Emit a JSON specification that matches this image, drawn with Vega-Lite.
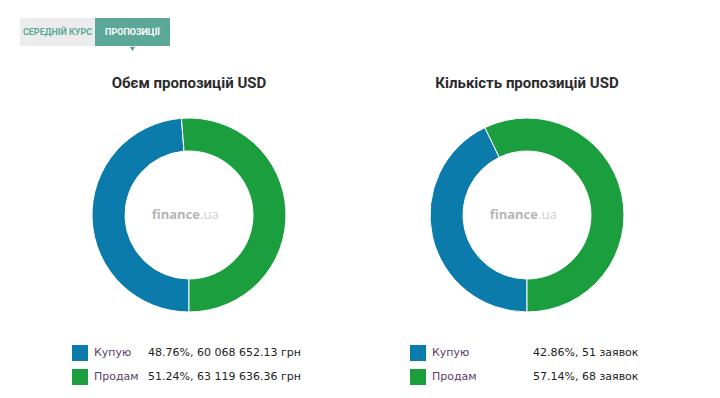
{
  "$schema": "https://vega.github.io/schema/vega-lite/v6.json",
  "background": "white",
  "padding": {"left": 0, "top": 18, "right": 0, "bottom": 0},
  "config": {"view": {"stroke": null}},
  "spacing": 24,
  "vconcat": [
    {
      "width": 720,
      "height": 28,
      "data": {"values": [{"tab": "СЕРЕДНІЙ КУРС"}, {"tab": "ПРОПОЗИЦІЇ"}]},
      "encoding": {
        "x": {"field": "tab", "type": "nominal", "axis": null, "sort": null,
              "scale": {"domain": ["СЕРЕДНІЙ КУРС", "ПРОПОЗИЦІЇ"], "range": [20, 170], "paddingInner": 0, "paddingOuter": 0}}
      },
      "layer": [
        {"mark": {"type": "rect"},
         "encoding": {"color": {"condition": {"test": "datum.tab === 'ПРОПОЗИЦІЇ'", "value": "#5ba898"}, "value": "#ececec"}}},
        {"transform": [{"filter": "datum.tab === 'ПРОПОЗИЦІЇ'"}],
         "mark": {"type": "point", "shape": "triangle-down", "size": 30, "filled": true, "opacity": 1, "yOffset": 17, "color": "#5ba898"}},
        {"mark": {"type": "text", "font": "Roboto, sans-serif", "fontWeight": "bold", "fontSize": 9, "baseline": "middle", "align": "center"},
         "encoding": {"text": {"field": "tab"},
                      "color": {"condition": {"test": "datum.tab === 'ПРОПОЗИЦІЇ'", "value": "white"}, "value": "#5ba898"}}}
      ]
    },
    {
      "spacing": 0,
      "hconcat": [
        {
          "spacing": 26,
          "vconcat": [
            {
              "width": 378,
              "height": 200,
              "title": {"text": "Обєм пропозицій USD", "font": "Roboto, sans-serif", "fontSize": 15, "fontWeight": "bold", "color": "#2b2b2b", "offset": 24},
              "layer": [
                {
                  "data": {"values": [{"cat": "Купую", "amount": 60068652.13}, {"cat": "Продам", "amount": 63119636.36}]},
                  "mark": {"type": "arc", "innerRadius": 64, "outerRadius": 97, "stroke": "white", "strokeWidth": 1},
                  "encoding": {
                    "theta": {"field": "amount", "type": "quantitative", "stack": true, "scale": {"range": [3.14159265, 9.42477796]}},
                    "order": {"field": "cat", "sort": "ascending"},
                    "color": {"field": "cat", "type": "nominal", "legend": null, "scale": {"domain": ["Купую", "Продам"], "range": ["#0b7bab", "#1a9e3e"]}}
                  }
                },
                {
                  "data": {"values": [{"t": "finance"}]},
                  "mark": {"type": "text", "align": "right", "baseline": "middle", "dx": 11, "font": "Open Sans, sans-serif", "fontWeight": "bold", "fontSize": 13, "color": "#b5b5b5"},
                  "encoding": {"text": {"field": "t"}}
                },
                {
                  "data": {"values": [{"t": ".ua"}]},
                  "mark": {"type": "text", "align": "left", "baseline": "middle", "dx": 11, "font": "Open Sans, sans-serif", "fontSize": 13, "color": "#cfcfcf"},
                  "encoding": {"text": {"field": "t"}}
                }
              ]
            },
            {
              "width": 378,
              "height": 48,
              "data": {"values": [
                {"cat": "Купую", "val": "48.76%, 60 068 652.13 грн"},
                {"cat": "Продам", "val": "51.24%, 63 119 636.36 грн"}
              ]},
              "encoding": {
                "y": {"field": "cat", "type": "nominal", "axis": null, "scale": {"domain": ["Купую", "Продам"], "paddingInner": 0, "paddingOuter": 0}}
              },
              "resolve": {"scale": {"x": "independent"}},
              "layer": [
                {"mark": {"type": "point", "shape": "square", "size": 256, "filled": true, "opacity": 1},
                 "encoding": {
                   "x": {"datum": "sq", "type": "nominal", "axis": null, "scale": {"range": [80, 80]}},
                   "color": {"field": "cat", "type": "nominal", "legend": null, "scale": {"domain": ["Купую", "Продам"], "range": ["#0b7bab", "#1a9e3e"]}}
                 }},
                {"mark": {"type": "text", "align": "left", "baseline": "middle", "font": "DejaVu Sans", "fontSize": 11, "color": "#5a3d6c"},
                 "encoding": {
                   "x": {"datum": "name", "type": "nominal", "axis": null, "scale": {"range": [94, 94]}},
                   "text": {"field": "cat"}
                 }},
                {"mark": {"type": "text", "align": "left", "baseline": "middle", "font": "DejaVu Sans", "fontSize": 11, "color": "#222222"},
                 "encoding": {
                   "x": {"datum": "val", "type": "nominal", "axis": null, "scale": {"range": [148, 148]}},
                   "text": {"field": "val"}
                 }}
              ]
            }
          ]
        },
        {
          "spacing": 26,
          "vconcat": [
            {
              "width": 298,
              "height": 200,
              "title": {"text": "Кількість пропозицій USD", "font": "Roboto, sans-serif", "fontSize": 15, "fontWeight": "bold", "color": "#2b2b2b", "offset": 24},
              "layer": [
                {
                  "data": {"values": [{"cat": "Купую", "count": 51}, {"cat": "Продам", "count": 68}]},
                  "mark": {"type": "arc", "innerRadius": 64, "outerRadius": 97, "stroke": "white", "strokeWidth": 1},
                  "encoding": {
                    "theta": {"field": "count", "type": "quantitative", "stack": true, "scale": {"range": [3.14159265, 9.42477796]}},
                    "order": {"field": "cat", "sort": "ascending"},
                    "color": {"field": "cat", "type": "nominal", "legend": null, "scale": {"domain": ["Купую", "Продам"], "range": ["#0b7bab", "#1a9e3e"]}}
                  }
                },
                {
                  "data": {"values": [{"t": "finance"}]},
                  "mark": {"type": "text", "align": "right", "baseline": "middle", "dx": 11, "font": "Open Sans, sans-serif", "fontWeight": "bold", "fontSize": 13, "color": "#b5b5b5"},
                  "encoding": {"text": {"field": "t"}}
                },
                {
                  "data": {"values": [{"t": ".ua"}]},
                  "mark": {"type": "text", "align": "left", "baseline": "middle", "dx": 11, "font": "Open Sans, sans-serif", "fontSize": 13, "color": "#cfcfcf"},
                  "encoding": {"text": {"field": "t"}}
                }
              ]
            },
            {
              "width": 298,
              "height": 48,
              "data": {"values": [
                {"cat": "Купую", "val": "42.86%, 51 заявок"},
                {"cat": "Продам", "val": "57.14%, 68 заявок"}
              ]},
              "encoding": {
                "y": {"field": "cat", "type": "nominal", "axis": null, "scale": {"domain": ["Купую", "Продам"], "paddingInner": 0, "paddingOuter": 0}}
              },
              "resolve": {"scale": {"x": "independent"}},
              "layer": [
                {"mark": {"type": "point", "shape": "square", "size": 256, "filled": true, "opacity": 1},
                 "encoding": {
                   "x": {"datum": "sq", "type": "nominal", "axis": null, "scale": {"range": [40, 40]}},
                   "color": {"field": "cat", "type": "nominal", "legend": null, "scale": {"domain": ["Купую", "Продам"], "range": ["#0b7bab", "#1a9e3e"]}}
                 }},
                {"mark": {"type": "text", "align": "left", "baseline": "middle", "font": "DejaVu Sans", "fontSize": 11, "color": "#5a3d6c"},
                 "encoding": {
                   "x": {"datum": "name", "type": "nominal", "axis": null, "scale": {"range": [54, 54]}},
                   "text": {"field": "cat"}
                 }},
                {"mark": {"type": "text", "align": "left", "baseline": "middle", "font": "DejaVu Sans", "fontSize": 11, "color": "#222222"},
                 "encoding": {
                   "x": {"datum": "val", "type": "nominal", "axis": null, "scale": {"range": [155, 155]}},
                   "text": {"field": "val"}
                 }}
              ]
            }
          ]
        }
      ]
    }
  ]
}
